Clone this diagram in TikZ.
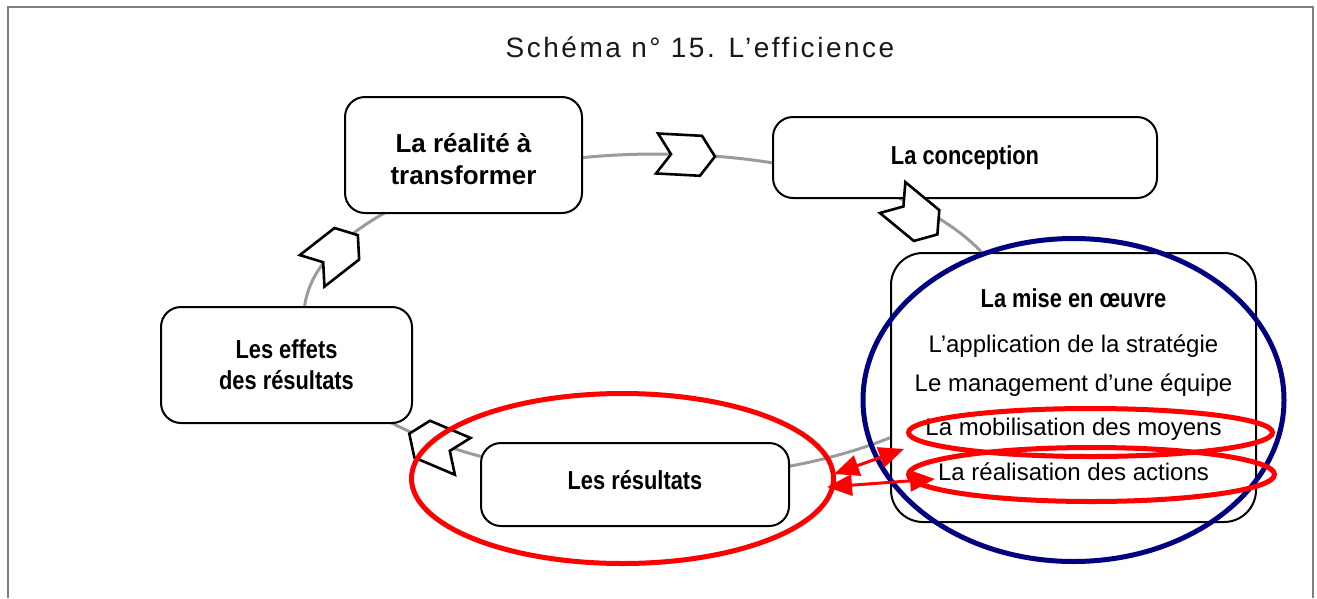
\documentclass[tikz,border=0pt]{standalone}
\usepackage{fontspec}
\setmainfont{Liberation Sans}
\newfontfamily\narrowfont[FakeStretch=0.84]{Liberation Sans}
\newfontfamily\titlefont[LetterSpace=9]{Liberation Sans}
\usetikzlibrary{shapes.geometric,shapes.symbols,arrows.meta}
\definecolor{navyc}{RGB}{0,0,128}
\definecolor{redc}{RGB}{255,0,0}
\definecolor{cyclegray}{RGB}{155,155,155}
\definecolor{framegray}{RGB}{128,128,128}
\begin{document}
\begin{tikzpicture}[x=1pt,y=-1pt,
  stagebox/.style={draw=black, line width=2pt, fill=white, rounded corners=20pt, inner sep=0pt, align=center},
  boldtxt/.style={font=\fontsize{26}{32}\selectfont\bfseries, align=center, inner sep=0pt},
  narrowtxt/.style={font=\narrowfont\fontsize{26}{31}\selectfont\bfseries},
  plaintxt/.style={font=\fontsize{24}{28}\selectfont, anchor=base, inner sep=0pt},
  flowmark/.style={signal, signal from=west, signal to=east, signal pointer angle=110, draw=black, line width=2.6pt, fill=white, minimum width=58pt, minimum height=40pt, inner sep=0pt},
  redring/.style={ellipse, draw=redc, line width=5pt, inner sep=0pt},
  bluering/.style={ellipse, draw=navyc, line width=5pt, inner sep=0pt},
  linkarrow/.style={draw=redc, line width=3pt, {Triangle[length=25pt,width=21pt]}-{Triangle[length=25pt,width=21pt]}}
]
\useasboundingbox (0,0) rectangle (1317,598);
\draw[framegray, line width=2pt] (8,598) -- (8,7) -- (1313,7) -- (1313,598);

\node[font=\titlefont\fontsize{28}{34}\selectfont, text=black!90, anchor=base, inner sep=0pt] (title) at (700,57) {Schéma n° 15. L’efficience};

% cycle line
\node[ellipse, draw=cyclegray, line width=3pt, minimum width=706pt, minimum height=324pt, inner sep=0pt] (loop) at (657,316) {};

% boxes
\node[stagebox, minimum width=237pt, minimum height=116pt] (real) at (463.5,155) {};
\node[boldtxt] (realT) at (463.5,159) {La réalité à\\transformer};
\node[stagebox, narrowtxt, minimum width=384pt, minimum height=81pt] (conc) at (965,157.5) {La conception};
\node[stagebox, rounded corners=32pt, minimum width=365pt, minimum height=269pt] (mise) at (1073.5,387.5) {};
\node[stagebox, minimum width=308pt, minimum height=83pt] (res) at (635,484.5) {};
\node[narrowtxt, anchor=base, inner sep=0pt] (resT) at (635,489) {Les résultats};
\node[stagebox, narrowtxt, minimum width=251pt, minimum height=116pt] (eff) at (286.5,365) {Les effets\\des résultats};

% texts of the implementation box
\node[narrowtxt, anchor=base, inner sep=0pt] (miseT) at (1073.5,307) {La mise en œuvre};
\node[plaintxt] (m1) at (1073.5,352) {L’application de la stratégie};
\node[plaintxt] (m2) at (1073.5,391) {Le management d’une équipe};
\node[plaintxt] (m3) at (1073.5,435) {La mobilisation des moyens};
\node[plaintxt] (m4) at (1073.5,480) {La réalisation des actions};

% chevrons
\node[flowmark, rotate=-3] (ch1) at (686,155) {};
\node[flowmark, rotate=-39.5] (ch2) at (915,216) {};
\node[flowmark, rotate=38] (ch3) at (335,253) {};
\node[flowmark, rotate=157] (ch4) at (436,445) {};

% highlight rings
\node[bluering, minimum width=421pt, minimum height=323pt] (blue) at (1073.5,400) {};
\node[redring, minimum width=422pt, minimum height=170pt] (redbig) at (622.5,478.5) {};
\node[redring, minimum width=364pt, minimum height=48pt] (ring3) at (1090.5,432.5) {};
\node[redring, minimum width=366pt, minimum height=54pt] (ring4) at (1091.5,474.5) {};

% red arrows
\coordinate (aL1) at (834,474);
\coordinate (aR1) at (904,449);
\coordinate (aL2) at (827,487);
\coordinate (aR2) at (935,479);
\draw[linkarrow] (aL1) -- (aR1);
\draw[linkarrow] (aL2) -- (aR2);
\end{tikzpicture}
\end{document}
